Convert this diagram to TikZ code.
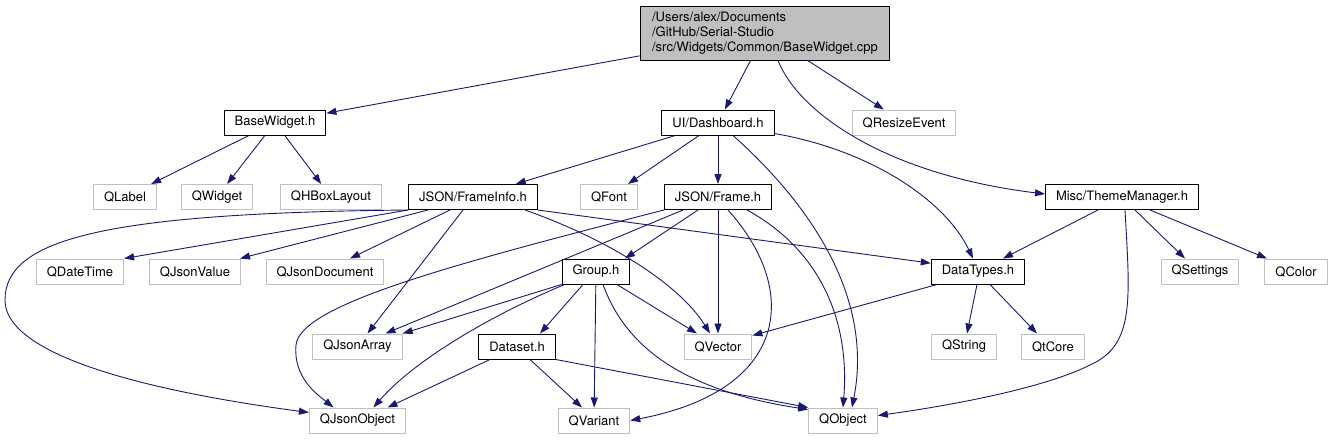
\documentclass[tikz,border=0pt]{standalone}
\usepackage{fontspec}
\setmainfont{TeX Gyre Heros}
\usetikzlibrary{arrows.meta}
\definecolor{edgeblue}{RGB}{25,25,112}
\definecolor{boxgray}{RGB}{191,191,191}
\tikzset{
  file/.style={draw=black, fill=white, line width=1pt, minimum height=25pt,
    inner xsep=10.5pt, inner ysep=0pt, font=\fontsize{13}{15}\selectfont},
  extern/.style={file, draw=boxgray},
  mainfile/.style={file, fill=boxgray, align=left, minimum height=54pt, inner xsep=12pt},
  dep/.style={draw=edgeblue, line width=0.9pt, -{Triangle[length=10pt,width=7pt]}},
}

\begin{document}
\begin{tikzpicture}[x=1pt,y=-1pt]
      \useasboundingbox (0,0) rectangle (1333,440);
      \node[mainfile] (root) at (765,33) {/Users/alex/Documents\\/GitHub/Serial-Studio\\/src/Widgets/Common/BaseWidget.cpp};
      \node[file] (basew) at (275,122.5) {BaseWidget.h};
      \node[file] (dashb) at (718,122.5) {UI/Dashboard.h};
      \node[extern] (qresize) at (904,122.5) {QResizeEvent};
      \node[extern] (qlabel) at (125,197) {QLabel};
      \node[extern] (qwidget) at (217,197) {QWidget};
      \node[extern] (qhbox) at (331,197) {QHBoxLayout};
      \node[file] (finfo) at (473,197) {JSON/FrameInfo.h};
      \node[extern] (qfont) at (609,197) {QFont};
      \node[file] (frame) at (718,197) {JSON/Frame.h};
      \node[file] (theme) at (1122,197) {Misc/ThemeManager.h};
      \node[extern] (qdt) at (80,271.5) {QDateTime};
      \node[extern] (qjval) at (195,271.5) {QJsonValue};
      \node[extern] (qjdoc) at (325,271.5) {QJsonDocument};
      \node[file] (group) at (596,271.5) {Group.h};
      \node[file] (dtypes) at (978,271.5) {DataTypes.h};
      \node[extern] (qsettings) at (1200,271.5) {QSettings};
      \node[extern] (qcolor) at (1296,271.5) {QColor};
      \node[extern] (qjarr) at (357.5,346.5) {QJsonArray};
      \node[file] (dataset) at (517,346.5) {Dataset.h};
      \node[extern] (qvector) at (718,346.5) {QVector};
      \node[extern] (qstring) at (964,346.5) {QString};
      \node[extern] (qtcore) at (1053,346.5) {QtCore};
      \node[extern] (qjobj) at (357.5,420.5) {QJsonObject};
      \node[extern] (qvariant) at (594,420.5) {QVariant};
      \node[extern] (qobject) at (843,420.5) {QObject};

      \draw[dep] (root) -- (basew);
      \draw[dep] (root) -- (dashb);
      \draw[dep] (root) -- (qresize);
      \draw[dep] ([xshift=13pt]root.south) .. controls (800,115) and (890,175) .. ([yshift=3pt]theme.west);
      \draw[dep] (basew) -- (qlabel);
      \draw[dep] (basew) -- (qwidget);
      \draw[dep] (basew) -- (qhbox);
      \draw[dep] (dashb) -- (finfo);
      \draw[dep] (dashb) -- (qfont);
      \draw[dep] (dashb) -- (frame);
      \draw[dep] ([yshift=2pt]dashb.south east) .. controls (870,150) and (945,200) .. ([xshift=-5pt]dtypes.north);
      \draw[dep] ([xshift=15pt]dashb.south) .. controls (800,195) and (875,290) .. ([xshift=9pt]qobject.north);
      \draw[dep] (finfo.south west) -- (qdt.north east);
      \draw[dep] ([xshift=-45pt]finfo.south) -- ([xshift=-1pt]qjval.north east);
      \draw[dep] ([xshift=-23pt]finfo.south) -- ([xshift=25pt]qjdoc.north);
      \draw[dep] ([xshift=-10pt]finfo.south) -- ([xshift=10pt]qjarr.north);
      \draw[dep] (finfo.south west) .. controls (100,213) and (5,240) .. (5,300) .. controls (5,365) and (200,398) .. ([yshift=8pt]qjobj.west);
      \draw[dep] ([xshift=52pt]finfo.south) .. controls (610,240) and (680,285) .. ([xshift=-8pt]qvector.north);
      \draw[dep] (finfo.south east) -- (dtypes.170);
      \draw[dep] ([xshift=-35pt]frame.south) -- ([xshift=28pt]qjarr.north);
      \draw[dep] (frame.south west) .. controls (450,265) and (300,305) .. (296,345) .. controls (293,378) and (318,395) .. ([xshift=-24pt]qjobj.north);
      \draw[dep] ([xshift=-20pt]frame.south) -- ([xshift=29pt]group.north);
      \draw[dep] (frame) -- (qvector);
      \draw[dep] ([xshift=10pt]frame.south) .. controls (800,290) and (790,390) .. (qvariant.east);
      \draw[dep] ([xshift=29pt]frame.south) .. controls (820,250) and (850,320) .. (qobject.north);
      \draw[dep] (group.south west) -- (qjarr.north east);
      \draw[dep] ([xshift=3pt]group.south west) .. controls (480,320) and (410,365) .. ([xshift=16pt]qjobj.north);
      \draw[dep] ([xshift=-13pt]group.south) -- ([xshift=23pt]dataset.north);
      \draw[dep] (group) -- (qvariant);
      \draw[dep] ([xshift=21pt]group.south) -- ([xshift=-21pt]qvector.north);
      \draw[dep] ([xshift=7pt]group.south) .. controls (625,345) and (680,390) .. ([yshift=-2pt]qobject.north west);
      \draw[dep] ([xshift=-27pt]dataset.south) -- ([xshift=30pt]qjobj.north);
      \draw[dep] ([xshift=13pt]dataset.south) -- ([xshift=-12pt]qvariant.north);
      \draw[dep] (dataset.south east) -- (qobject.north west);
      \draw[dep] ([xshift=-41pt]dtypes.south) -- ([yshift=-2pt]qvector.north east);
      \draw[dep] ([xshift=-1pt]dtypes.south) -- ([xshift=3pt]qstring.north);
      \draw[dep] ([xshift=12pt]dtypes.south) -- ([xshift=-16pt]qtcore.north);
      \draw[dep] ([xshift=-24pt]theme.south) -- ([xshift=25pt]dtypes.north);
      \draw[dep] ([xshift=13pt]theme.south) -- ([xshift=-15pt]qsettings.north);
      \draw[dep] ([xshift=28pt]theme.south) -- ([xshift=-29pt]qcolor.north);
      \draw[dep] ([xshift=3pt]theme.south) .. controls (1130,300) and (1135,345) .. (1090,365) .. controls (1040,390) and (940,407) .. ([yshift=5pt]qobject.east);
\end{tikzpicture}
\end{document}
